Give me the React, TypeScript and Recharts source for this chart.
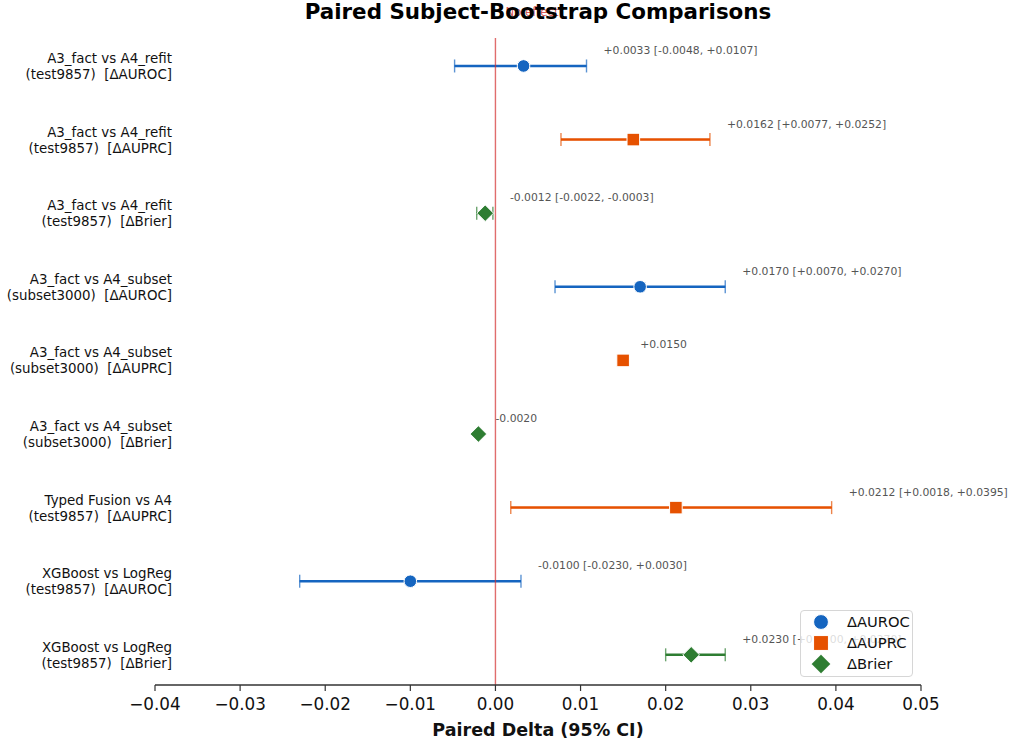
import React from 'react';
import {
  ScatterChart,
  Scatter,
  XAxis,
  YAxis,
  ErrorBar,
  ReferenceLine,
  Legend,
} from 'recharts';

// ---- data -------------------------------------------------------------
const comparisons = [
  'A3_fact vs A4_refit',
  'A3_fact vs A4_refit',
  'A3_fact vs A4_refit',
  'A3_fact vs A4_subset',
  'A3_fact vs A4_subset',
  'A3_fact vs A4_subset',
  'Typed Fusion vs A4',
  'XGBoost vs LogReg',
  'XGBoost vs LogReg',
];
const cohorts = [
  'test9857',
  'test9857',
  'test9857',
  'subset3000',
  'subset3000',
  'subset3000',
  'test9857',
  'test9857',
  'test9857',
];
const metricOfRow = ['AUROC', 'AUPRC', 'Brier', 'AUROC', 'AUPRC', 'Brier', 'AUPRC', 'AUROC', 'Brier'];
const deltas = [0.0033, 0.0162, -0.0012, 0.017, 0.015, -0.002, 0.0212, -0.01, 0.023];
const ciLow: (number | null)[] = [-0.0048, 0.0077, -0.0022, 0.007, null, null, 0.0018, -0.023, 0.02];
const ciHigh: (number | null)[] = [0.0107, 0.0252, -0.0003, 0.027, null, null, 0.0395, 0.003, 0.027];

const xTicks = [-0.04, -0.03, -0.02, -0.01, 0.0, 0.01, 0.02, 0.03, 0.04, 0.05];
const rowTicks = [0, 1, 2, 3, 4, 5, 6, 7, 8];

const metrics = ['AUROC', 'AUPRC', 'Brier'];
const metricColors: Record<string, string> = {
  AUROC: '#1565C0',
  AUPRC: '#E65100',
  Brier: '#2E7D32',
};

// ---- derived tables ---------------------------------------------------
const fmt = (v: number) => (v >= 0 ? '+' : '-') + Math.abs(v).toFixed(4);

const rows = deltas.map((d, i) => {
  const lo = ciLow[i];
  const hi = ciHigh[i];
  return {
    x: d,
    y: i,
    metric: metricOfRow[i],
    err: lo != null && hi != null ? [d - lo, hi - d] : undefined,
    text: lo != null && hi != null ? `${fmt(d)} [${fmt(lo)}, ${fmt(hi)}]` : fmt(d),
    textX: (hi != null ? hi : d) + 0.002,
  };
});

const seriesData = metrics.map((m) => rows.filter((r) => r.metric === m));
const annotationData = rows.map((r) => ({ x: r.textX, y: r.y, text: r.text }));

const fontFamily = "'DejaVu Sans', sans-serif";

// ---- marker shapes ----------------------------------------------------
const drawMarker = (metric: string, cx: number, cy: number, scale = 1) => {
  const color = metricColors[metric];
  if (metric === 'AUROC') {
    return <circle cx={cx} cy={cy} r={6.3 * scale} fill={color} stroke="#fff" strokeWidth={1} />;
  }
  if (metric === 'AUPRC') {
    const s = 6.3 * scale;
    return (
      <rect x={cx - s} y={cy - s} width={2 * s} height={2 * s} fill={color} stroke="#fff" strokeWidth={1} />
    );
  }
  const s = 8.3 * scale;
  return (
    <polygon
      points={`${cx},${cy - s} ${cx + s},${cy} ${cx},${cy + s} ${cx - s},${cy}`}
      fill={color}
      stroke="#fff"
      strokeWidth={1}
    />
  );
};

const makeShape = (metric: string) => (props: any) => {
  const { cx, cy } = props;
  if (cx == null || cy == null) return <g />;
  return drawMarker(metric, cx, cy);
};

const AnnotationShape = (props: any) => {
  const { cx, cy, payload } = props;
  if (cx == null || cy == null) return <g />;
  return (
    <text x={cx} y={cy - 12} fontSize={10.8} fill="#555" fontFamily={fontFamily} textAnchor="start">
      {payload.text}
    </text>
  );
};

const RowTick = (props: any) => {
  const { x, y, payload } = props;
  const i = payload.value as number;
  const tx = x + 17;
  return (
    <text
      x={tx}
      y={y}
      textAnchor="end"
      fontSize={13.4}
      fill="#111"
      fontFamily={fontFamily}
      style={{ whiteSpace: 'pre' }}
    >
      <tspan x={tx} dy={-3}>
        {comparisons[i]}
      </tspan>
      <tspan x={tx} dy={16}>
        {`(${cohorts[i]})  [Δ${metricOfRow[i]}]`}
      </tspan>
    </text>
  );
};

const NoEffectLabel = (props: any) => {
  const { viewBox } = props;
  if (!viewBox) return null;
  return (
    <text
      x={viewBox.x + 10}
      y={viewBox.y - 22}
      fontSize={11.7}
      fill="#d32f2f"
      fillOpacity={0.8}
      fontFamily={fontFamily}
    >
      No effect
    </text>
  );
};

const LegendBox = () => (
  <div
    style={{
      width: 113,
      height: 67,
      boxSizing: 'border-box',
      border: '1px solid #d6d6d6',
      borderRadius: 4,
      background: 'rgba(255,255,255,0.8)',
    }}
  >
    <svg width={111} height={65} style={{ display: 'block' }}>
      {metrics.map((m, k) => (
        <g key={m}>
          {drawMarker(m, 20, 11 + k * 21, 1.18)}
          <text x={46} y={11 + k * 21 + 5.3} fontSize={14.7} fill="#111" fontFamily={fontFamily}>
            {`Δ${m}`}
          </text>
        </g>
      ))}
    </svg>
  </div>
);

export default function App() {
  return (
    <div style={{ position: 'absolute', left: 0, top: 0, width: 1011, height: 742, background: '#fff' }}>
      <ScatterChart width={1011} height={742} margin={{ top: 38, right: 90, bottom: 0, left: 0 }}>
        <XAxis
          type="number"
          dataKey="x"
          domain={[-0.04, 0.05]}
          ticks={xTicks}
          interval={0}
          height={57}
          tickFormatter={(v: number) => (v < 0 ? '\u2212' + Math.abs(v).toFixed(2) : v.toFixed(2))}
          tick={{ fontSize: 16.8, fill: '#111', fontFamily }}
          tickSize={6}
          tickMargin={7}
          axisLine={{ stroke: '#333', strokeWidth: 1.3 }}
          tickLine={{ stroke: '#333', strokeWidth: 1.2 }}
          label={{
            value: 'Paired Delta (95% CI)',
            position: 'insideBottom',
            offset: 6,
            style: { fontSize: 17.5, fontWeight: 700, fill: '#111', fontFamily },
          }}
        />
        <YAxis
          type="number"
          dataKey="y"
          domain={[-0.38, 8.41]}
          reversed
          ticks={rowTicks}
          interval={0}
          width={155}
          axisLine={false}
          tickLine={false}
          tickSize={0}
          tickMargin={0}
          tick={<RowTick />}
        />
        {metrics.map((m, k) => (
          <Scatter
            key={m}
            name={`Δ${m}`}
            data={seriesData[k]}
            fill={metricColors[m]}
            shape={makeShape(m)}
            isAnimationActive={false}
          >
            {/* thin, lighter caps */}
            <ErrorBar
              dataKey="err"
              direction="x"
              width={6.5}
              stroke={metricColors[m]}
              strokeOpacity={0.7}
              strokeWidth={1.4}
              isAnimationActive={false}
            />
            {/* solid interval line */}
            <ErrorBar
              dataKey="err"
              direction="x"
              width={0}
              stroke={metricColors[m]}
              strokeWidth={2.5}
              isAnimationActive={false}
            />
          </Scatter>
        ))}
        <Scatter
          name="annotations"
          data={annotationData}
          shape={<AnnotationShape />}
          legendType="none"
          isAnimationActive={false}
        />
        <ReferenceLine x={0} stroke="#d32f2f" strokeOpacity={0.7} strokeWidth={1.4} label={<NoEffectLabel />} />
        <Legend
          layout="horizontal"
          verticalAlign="middle"
          align="center"
          content={() => <LegendBox />}
          wrapperStyle={{ position: 'absolute', left: 800, top: 610, width: 113, height: 67 }}
        />
      </ScatterChart>
      <div
        style={{
          position: 'absolute',
          left: 155,
          top: 0,
          width: 766,
          textAlign: 'center',
          fontFamily,
          fontWeight: 700,
          fontSize: 21.4,
          lineHeight: '24px',
          color: '#000',
          pointerEvents: 'none',
        }}
      >
        Paired Subject-Bootstrap Comparisons
      </div>
    </div>
  );
}
